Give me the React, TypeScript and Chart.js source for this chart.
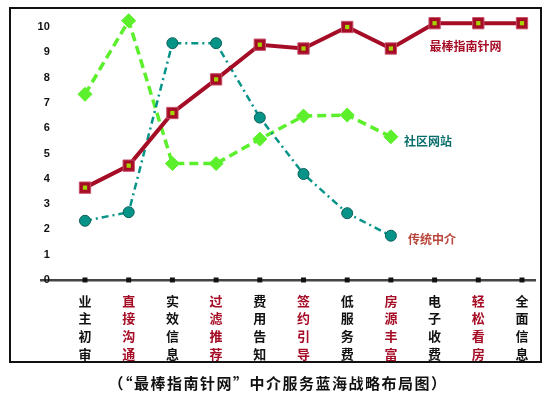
import React, { useEffect, useRef } from 'react';
import { Chart, registerables } from 'chart.js';

Chart.register(...registerables);

// ---- data ----
const categories = ['业主初审', '直接沟通', '实效信息', '过滤推荐', '费用告知', '签约引导', '低服务费', '房源丰富', '电子收费', '轻松看房', '全面信息'];
const yTicks = [0, 1, 2, 3, 4, 5, 6, 7, 8, 9, 10];
const zhinanzhenValues = [3.65, 4.52, 6.6, 7.93, 9.3, 9.15, 10.0, 9.15, 10.15, 10.15, 10.15];
const shequValues = [7.34, 10.25, 4.6, 4.6, 5.57, 6.48, 6.52, 5.66];
const chuantongValues = [2.34, 2.68, 9.36, 9.36, 6.42, 4.19, 2.64, 1.75];
const zeroLineValues = [0, 0, 0, 0, 0, 0, 0, 0, 0, 0, 0];
const seriesNames = ['最棒指南针网', '社区网站', '传统中介'];
const caption = '（“最棒指南针网”中介服务蓝海战略布局图）';

const RED = '#a50c25';
const GREEN = '#5cf02c';
const TEAL = '#069489';
const CJK = '"Noto Sans CJK SC", sans-serif';

const toXY = (vals: number[]) => vals.map((v, i) => ({ x: i, y: v }));

// inline series labels: [dataset index, anchor point index, dx, dy, color]
const inlineLabels: Array<[number, number, number, number, string]> = [
  [0, 8, -5, 23, RED],
  [2, 7, 13, 5, '#0a6f6c'],
  [3, 7, 17, 4, '#b8463a'],
];

const seriesLabelPlugin = {
  id: 'seriesLabels',
  afterDatasetsDraw(chart: any) {
    const ctx = chart.ctx;
    ctx.save();
    ctx.font = `bold 12px ${CJK}`;
    ctx.textAlign = 'left';
    ctx.textBaseline = 'middle';
    inlineLabels.forEach(([di, pi, dx, dy, color]) => {
      const meta = chart.getDatasetMeta(di);
      const el = meta.data[pi];
      if (!el) return;
      ctx.fillStyle = color;
      ctx.fillText(chart.data.datasets[di].label, el.x + dx, el.y + dy);
    });
    ctx.restore();
  },
};

export default function App() {
  const canvasRef = useRef<HTMLCanvasElement | null>(null);

  useEffect(() => {
    if (!canvasRef.current) return;
    const chart = new Chart(canvasRef.current, {
      type: 'line',
      data: {
        datasets: [
          {
            label: seriesNames[0],
            data: toXY(zhinanzhenValues),
            borderColor: RED,
            borderWidth: 4,
            pointStyle: 'rect',
            pointRadius: 8,
            pointBackgroundColor: RED,
            pointBorderColor: '#c8506a',
            pointBorderWidth: 1,
            order: 1,
            clip: false,
          } as any,
          {
            label: seriesNames[0] + '-center',
            data: toXY(zhinanzhenValues),
            showLine: false,
            pointStyle: 'rect',
            pointRadius: 3,
            pointBackgroundColor: '#a6d400',
            pointBorderWidth: 0,
            order: 0,
            clip: false,
          } as any,
          {
            label: seriesNames[1],
            data: toXY(shequValues),
            borderColor: GREEN,
            borderWidth: 3.5,
            borderDash: [9, 5],
            pointStyle: 'rectRot',
            pointRadius: 7,
            pointBackgroundColor: GREEN,
            pointBorderColor: GREEN,
            pointBorderWidth: 1,
            order: 3,
            clip: false,
          } as any,
          {
            label: seriesNames[2],
            data: toXY(chuantongValues),
            borderColor: TEAL,
            borderWidth: 2.5,
            borderDash: [7, 4, 2, 4],
            pointStyle: 'circle',
            pointRadius: 5.5,
            pointBackgroundColor: TEAL,
            pointBorderColor: '#0a5e58',
            pointBorderWidth: 1,
            order: 2,
            clip: false,
          } as any,
          {
            label: 'zero',
            data: toXY(zeroLineValues),
            showLine: false,
            pointStyle: 'rect',
            pointRadius: 3.5,
            pointBackgroundColor: '#111',
            pointBorderWidth: 0,
            order: 4,
            clip: false,
          } as any,
        ],
      },
      options: {
        animation: false,
        responsive: true,
        maintainAspectRatio: false,
        layout: { padding: { top: 14.35, left: 41.3, right: 14.9, bottom: 23.3 } },
        plugins: {
          legend: { display: false },
          tooltip: { enabled: false },
          title: { display: false },
        },
        elements: { line: { tension: 0 } },
        scales: {
          x: {
            type: 'linear',
            min: -1,
            max: 10.3,
            grid: { display: false, drawTicks: false },
            border: { display: true, color: '#444', width: 2.5, dash: [8, 5] },
            afterBuildTicks: (scale: any) => {
              scale.ticks = categories.map((_, i) => ({ value: i }));
            },
            ticks: {
              autoSkip: false,
              maxRotation: 0,
              minRotation: 0,
              padding: 12,
              font: { family: CJK, size: 13, weight: 'bold', lineHeight: 1.36 },
              color: (ctx: any) => (ctx.index % 2 === 1 ? RED : '#111'),
              callback: (v: any) => {
                const c = categories[Math.round(Number(v))];
                return c ? Array.from(c) : '';
              },
            },
          },
          y: {
            type: 'linear',
            min: 0,
            max: 10.5,
            grid: { display: false, drawTicks: false },
            border: { display: false },
            afterBuildTicks: (scale: any) => {
              scale.ticks = yTicks.map((v) => ({ value: v }));
            },
            afterFit: (scale: any) => {
              scale.width = 0;
            },
            ticks: {
              mirror: true,
              crossAlign: 'far',
              autoSkip: false,
              padding: -3.7,
              color: '#111',
              font: { family: '"Liberation Sans", Arial, sans-serif', size: 11, weight: 'bold' },
              callback: (v: any) => String(v),
            },
          },
        },
      },
      plugins: [seriesLabelPlugin],
    } as any);
    return () => chart.destroy();
  }, []);

  return (
    <div style={{ position: 'absolute', left: 0, top: 0, width: 550, height: 398, background: '#fff' }}>
      <div
        style={{
          position: 'absolute',
          left: 9,
          top: 7,
          width: 533,
          height: 356,
          boxSizing: 'border-box',
          border: '2px solid #111',
        }}
      />
      <div style={{ position: 'absolute', left: 0, top: 0, width: 550, height: 398 }}>
        <canvas ref={canvasRef} />
      </div>
      <div
        style={{
          position: 'absolute',
          left: 3,
          top: 374,
          width: 550,
          height: 18,
          lineHeight: '18px',
          textAlign: 'center',
          fontFamily: CJK,
          fontWeight: 'bold',
          fontSize: 15,
          letterSpacing: '1.5px',
          color: '#111',
          whiteSpace: 'nowrap',
        }}
      >
        {caption}
      </div>
    </div>
  );
}
